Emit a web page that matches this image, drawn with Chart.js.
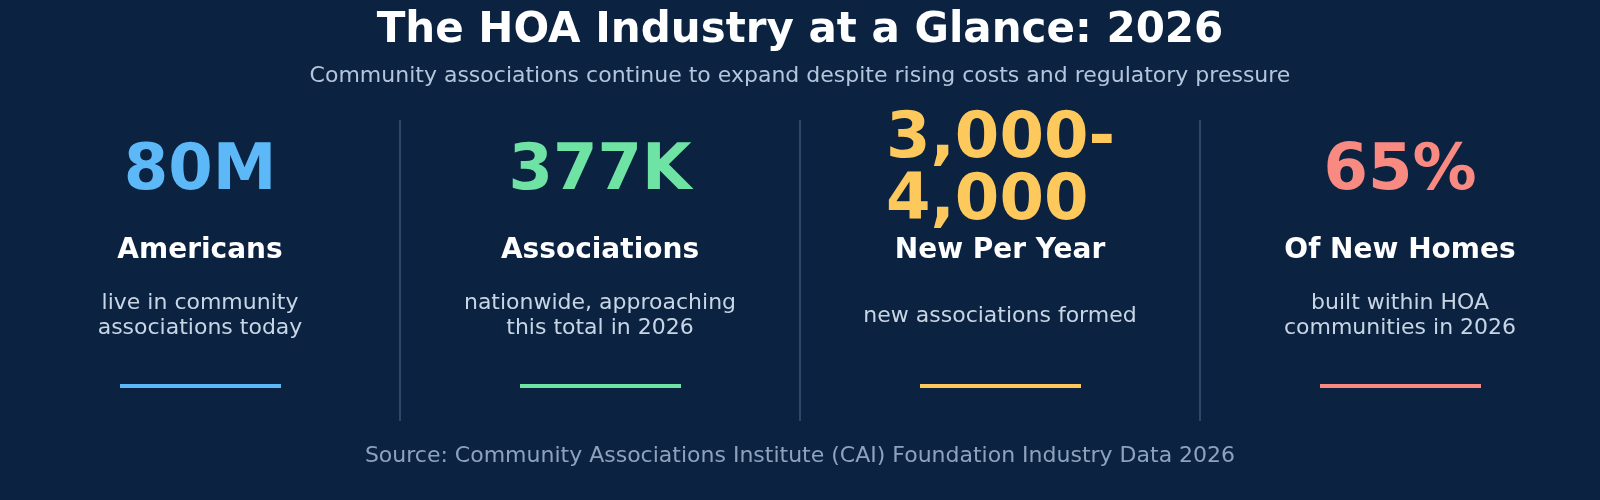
<!DOCTYPE html>
<html><head><meta charset="utf-8">
<script src="https://cdn.jsdelivr.net/npm/chart.js@4"></script>
<style>html,body{margin:0;padding:0;background:#0b2341;overflow:hidden}</style>
</head><body>
<canvas id="c" width="1600" height="500"></canvas>
<script>
const categories = ["Americans", "Associations", "New Per Year", "Of New Homes"];
const bigValues = [["80M"], ["377K"], ["3,000-", "4,000"], ["65%"]];
const descriptions = [
  ["live in community", "associations today"],
  ["nationwide, approaching", "this total in 2026"],
  ["new associations formed"],
  ["built within HOA", "communities in 2026"]
];
const title = "The HOA Industry at a Glance: 2026";
const subtitle = "Community associations continue to expand despite rising costs and regulatory pressure";
const source = "Source: Community Associations Institute (CAI) Foundation Industry Data 2026";
const accent = ["#5cb8f6", "#6fe3a3", "#fec95c", "#f98a82"];
const F = "'DejaVu Sans', sans-serif";

const infoPlugin = {
  id: 'info',
  afterDraw(chart) {
    const ctx = chart.ctx, xs = chart.scales.x;
    ctx.save();
    ctx.textAlign = 'center'; ctx.textBaseline = 'middle';
    ctx.fillStyle = '#ffffff'; ctx.font = 'bold 42px ' + F;
    ctx.fillText(title, 800, 31);
    ctx.fillStyle = '#b4c6dc'; ctx.font = '22px ' + F;
    ctx.fillText(subtitle, 800, 76);
    categories.forEach((cat, i) => {
      const cx = xs.getPixelForValue(i);
      if (i > 0) {
        const dx = (cx + xs.getPixelForValue(i - 1)) / 2;
        ctx.strokeStyle = '#3a5473'; ctx.lineWidth = 1.5;
        ctx.beginPath(); ctx.moveTo(dx, 120); ctx.lineTo(dx, 421); ctx.stroke();
      }
      ctx.fillStyle = accent[i]; ctx.font = 'bold 64px ' + F;
      const v = bigValues[i];
      if (v.length === 1) { ctx.textAlign = 'center'; ctx.fillText(v[0], cx, 172); }
      else {
        ctx.textAlign = 'left';
        ctx.fillText(v[0], cx - 114, 140);
        ctx.fillText(v[1], cx - 114, 202);
      }
      ctx.textAlign = 'center';
      ctx.fillStyle = '#ffffff'; ctx.font = 'bold 28px ' + F;
      ctx.fillText(cat, cx, 251);
      ctx.fillStyle = '#c8d5e4'; ctx.font = '22px ' + F;
      const d = descriptions[i];
      if (d.length === 1) ctx.fillText(d[0], cx, 316);
      else { ctx.fillText(d[0], cx, 303); ctx.fillText(d[1], cx, 328); }
      ctx.fillStyle = accent[i];
      ctx.fillRect(cx - 80, 384, 161, 4);
    });
    ctx.fillStyle = '#8da3bd'; ctx.font = '22px ' + F;
    ctx.fillText(source, 800, 456);
    ctx.restore();
  }
};

new Chart(document.getElementById('c'), {
  type: 'bar',
  data: { labels: categories, datasets: [{ data: categories.map(() => 0), backgroundColor: 'rgba(0,0,0,0)' }] },
  options: {
    responsive: false, animation: false, devicePixelRatio: 1,
    layout: { padding: 0 },
    plugins: { legend: { display: false }, tooltip: { enabled: false } },
    scales: { x: { display: false, offset: true }, y: { display: false } }
  },
  plugins: [infoPlugin]
});
</script>
</body></html>
